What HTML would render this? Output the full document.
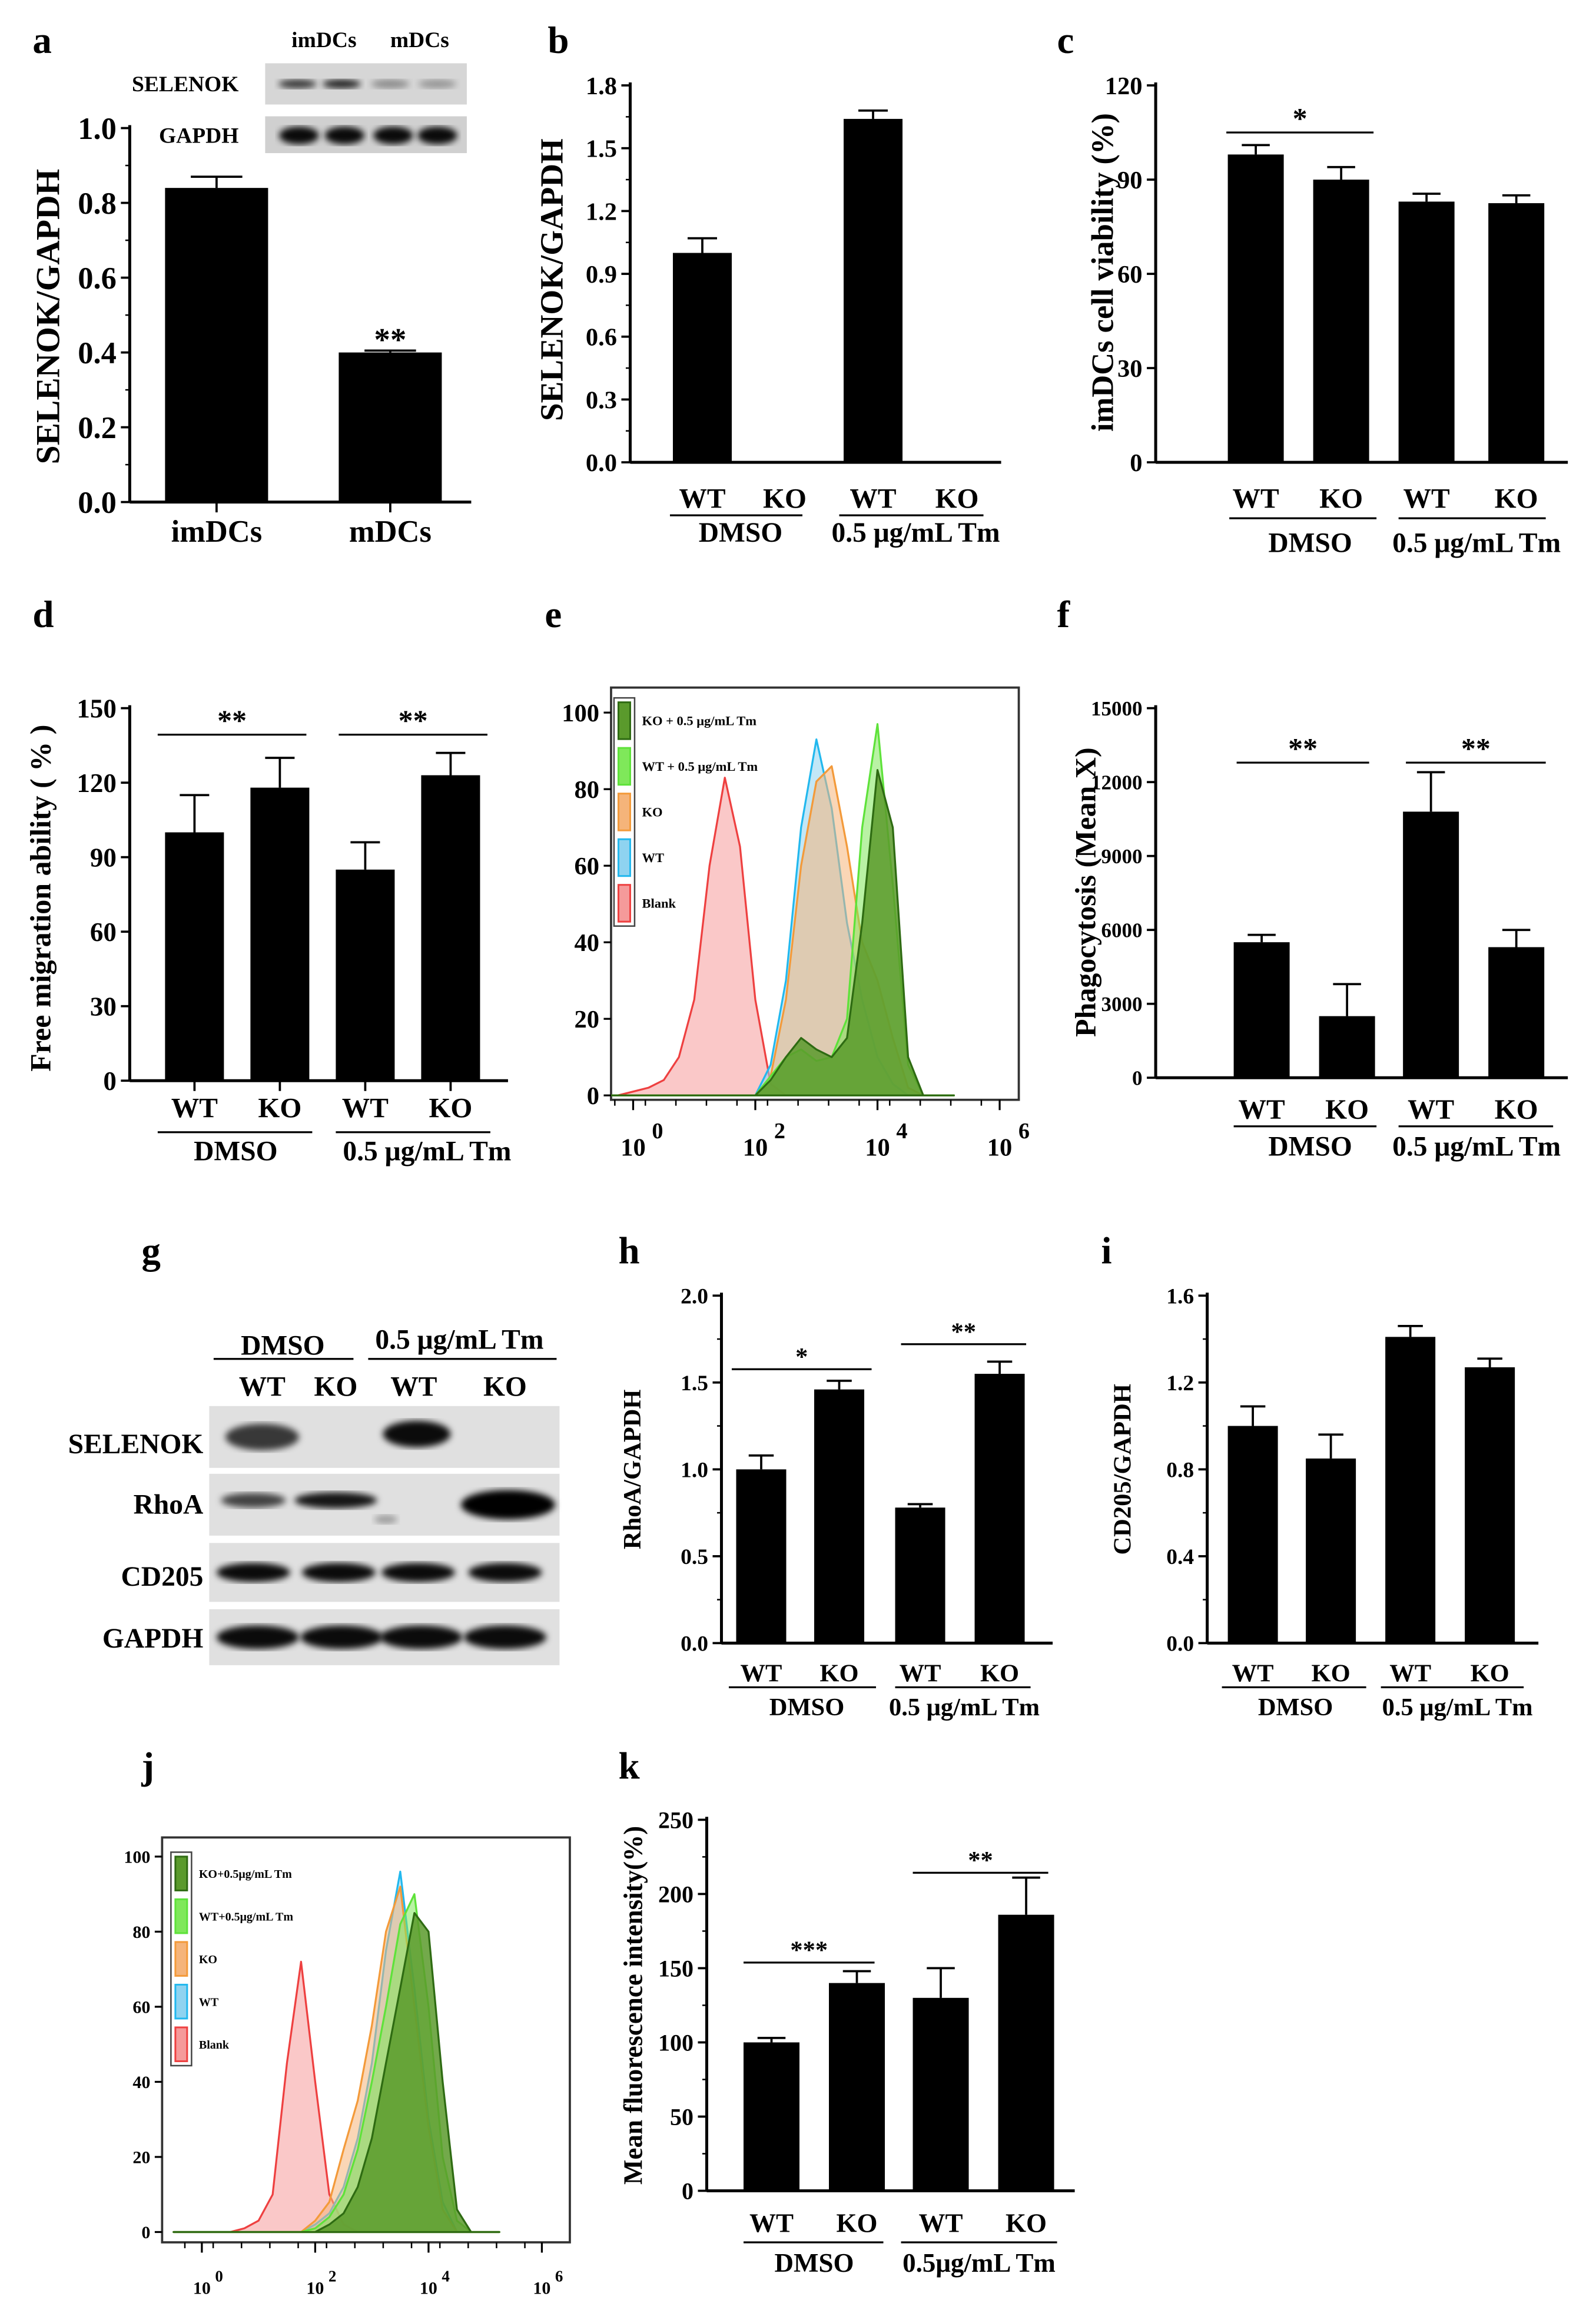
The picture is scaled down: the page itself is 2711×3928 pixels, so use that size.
<!DOCTYPE html>
<html><head><meta charset="utf-8">
<style>
html,body{margin:0;padding:0;background:#fff;}
svg{display:block;}
text{font-family:"Liberation Serif",serif;font-weight:bold;fill:#000;}
</style></head>
<body>
<svg id="fig" width="2711" height="3928" viewBox="0 0 1084 1571" xmlns="http://www.w3.org/2000/svg">
<defs>
<filter id="blur2"><feGaussianBlur stdDeviation="2.2"/></filter>
<filter id="blur1"><feGaussianBlur stdDeviation="1.2"/></filter>
</defs>
<g id="root"></g>
</svg>
<script>
// ---------- data ----------
const aCats=["imDCs","mDCs"];
const aVals=[0.84,0.40];
const aErr=[0.03,0.005];
const aTicks=["0.0","0.2","0.4","0.6","0.8","1.0"];

const bVals=[1.0,0,1.64,0];
const bErr=[0.07,0,0.04,0];
const bTicks=["0.0","0.3","0.6","0.9","1.2","1.5","1.8"];

const cVals=[98,90,83,82.5];
const cErr=[3,4,2.5,2.5];
const cTicks=["0","30","60","90","120"];

const dVals=[100,118,85,123];
const dErr=[15,12,11,9];
const dTicks=["0","30","60","90","120","150"];

const fVals=[5500,2500,10800,5300];
const fErr=[300,1300,1600,700];
const fTicks=["0","3000","6000","9000","12000","15000"];

const hVals=[1.0,1.46,0.78,1.55];
const hErr=[0.08,0.05,0.02,0.07];
const hTicks=["0.0","0.5","1.0","1.5","2.0"];

const iVals=[1.0,0.85,1.41,1.27];
const iErr=[0.09,0.11,0.05,0.04];
const iTicks=["0.0","0.4","0.8","1.2","1.6"];

const kVals=[100,140,130,186];
const kErr=[3,8,20,25];
const kTicks=["0","50","100","150","200","250"];

const groupCats=["WT","KO","WT","KO"];

// flow e: log10 positions and counts
const eLogs=[-0.5,-0.25,0,0.25,0.5,0.75,1,1.25,1.5,1.75,2,2.25,2.5,2.75,3,3.25,3.5,3.75,4,4.25,4.5,4.75,5,5.25];
const eBlank=[0,0,1,2,4,10,25,60,83,65,25,3,0,0,0,0,0,0,0,0,0,0,0,0];
const eWT=[0,0,0,0,0,0,0,0,0,0,0,8,30,70,93,75,45,25,10,3,0,0,0,0];
const eKO=[0,0,0,0,0,0,0,0,0,0,0,5,25,60,82,86,65,40,30,15,2,0,0,0];
const eWTTm=[0,0,0,0,0,0,0,0,0,0,0,5,10,12,9,10,20,70,97,55,8,0,0,0];
const eKOTm=[0,0,0,0,0,0,0,0,0,0,0,4,10,15,12,10,15,45,85,70,10,0,0,0];
// flow j
const jLogs=[-0.5,-0.25,0,0.25,0.5,0.75,1,1.25,1.5,1.75,2,2.25,2.5,2.75,3,3.25,3.5,3.75,4,4.25,4.5,4.75,5,5.25];
const jBlank=[0,0,0,0,0,1,3,10,45,72,40,10,2,0,0,0,0,0,0,0,0,0,0,0];
const jWT=[0,0,0,0,0,0,0,0,0,0,2,5,12,25,45,75,96,65,30,8,0,0,0,0];
const jKO=[0,0,0,0,0,0,0,0,0,0,3,8,22,35,55,80,92,60,28,6,0,0,0,0];
const jWTTm=[0,0,0,0,0,0,0,0,0,0,1,4,10,22,40,60,82,90,60,20,3,0,0,0];
const jKOTm=[0,0,0,0,0,0,0,0,0,0,0,2,5,12,25,45,65,85,80,40,6,0,0,0];

const flowLegend=["KO + 0.5 μg/mL Tm","WT + 0.5 μg/mL Tm","KO","WT","Blank"];
const flowLegendJ=["KO+0.5μg/mL Tm","WT+0.5μg/mL Tm","KO","WT","Blank"];
const flowColors=[["#2e6b12","#5a9a2c"],["#5ee23a","#7fe85a"],["#f39a3a","#f5b47a"],["#22b8ee","#8fd3f0"],["#ee4040","#f59a9a"]];

// ---------- helpers ----------
const NS="http://www.w3.org/2000/svg";
const root=document.getElementById('root');
function el(tag,attrs,parent,txt){
  const e=document.createElementNS(NS,tag);
  for(const k in attrs) e.setAttribute(k,attrs[k]);
  if(txt!==undefined) e.textContent=txt;
  (parent||root).appendChild(e);
  return e;
}
function panelLabel(ch,x,y){
  const t=el('text',{x:x,y:y,'font-size':26});
  t.textContent=ch;
  
  
}
function barChart(o){
  const g=el('g',{});
  
  
  const y=v=>o.y0-(v-0)/(o.max)*(o.y0-o.yTop);
  const ax=el('line',{x1:o.x0,y1:o.yTop-2,x2:o.x0,y2:o.y0,stroke:'#000','stroke-width':o.axW||2},g);
  
  
  const xa=el('line',{x1:o.x0,y1:o.y0,x2:o.xEnd,y2:o.y0,stroke:'#000','stroke-width':o.axW||2},g);
  
  
  const n=o.ticks.length;
  for(let i=0;i<n;i++){
    const v=o.max*i/(n-1), yy=y(v);
    el('line',{x1:o.x0-6,y1:yy,x2:o.x0,y2:yy,stroke:'#000','stroke-width':1.5},g);
    if(o.minor && i<n-1){ const ym=y(v+o.max/(n-1)/2); el('line',{x1:o.x0-3,y1:ym,x2:o.x0,y2:ym,stroke:'#000','stroke-width':1},g);}
    const t=el('text',{x:o.x0-9,y:yy+o.tfs*0.35,'font-size':o.tfs,'text-anchor':'end'},g,o.ticks[i]);
    
    
  }
  o.vals.forEach((v,i)=>{
    const cx=o.cx[i];
    if(o.xticks) el('line',{x1:cx,y1:o.y0,x2:cx,y2:o.y0+7,stroke:'#000','stroke-width':1.5},g);
    if(v>0){
      const r=el('rect',{x:cx-o.bw/2,y:y(v),width:o.bw,height:o.y0-y(v),fill:'#000'},g);
      
      
      const e=o.err[i];
      if(e>0){
        const ey=y(v+e);
        el('line',{x1:cx,y1:y(v),x2:cx,y2:ey,stroke:'#000','stroke-width':1.5},g);
        el('line',{x1:cx-o.bw/4,y1:ey,x2:cx+o.bw/4,y2:ey,stroke:'#000','stroke-width':1.5},g);
      }
    }
    const lbl=el('text',{x:cx,y:o.labY,'font-size':o.lfs,'text-anchor':'middle'},g,o.cats[i]);
    
    
  });
  (o.groups||[]).forEach(gr=>{
    el('line',{x1:gr.x1,y1:gr.ly,x2:gr.x2,y2:gr.ly,stroke:'#000','stroke-width':1.3},g);
    const t=el('text',{x:gr.tx,y:gr.ty,'font-size':o.lfs,'text-anchor':'middle'},g,gr.t);
    
    
  });
  (o.sig||[]).forEach(s=>{
    el('line',{x1:s.x1,y1:s.y,x2:s.x2,y2:s.y,stroke:'#000','stroke-width':1.3},g);
    const t=el('text',{x:(s.x1+s.x2)/2,y:s.y-3,'font-size':o.sfs||20,'text-anchor':'middle'},g,s.t);
    
    
  });
  const yl=el('text',{x:0,y:0,'font-size':o.yfs,'text-anchor':'middle',transform:`translate(${o.ylx},${o.yly}) rotate(-90)`},g,o.ylabel);
  
  
}
function flow(o){
  const g=el('g',{});
  
  
  const X=l=>o.xl0+l*o.xs, Y=v=>o.y0-v*o.ys;
  const fr=el('rect',{x:o.fx,y:o.fy,width:o.fw,height:o.fh,fill:'none',stroke:'#333','stroke-width':1.5},g);
  
  
  const series=[o.blank,o.wt,o.ko,o.wttm,o.kotm];
  const cols=[flowColors[4],flowColors[3],flowColors[2],flowColors[1],flowColors[0]];
  const names=['blank','wt','ko','wt-tm','ko-tm'];
  series.forEach((s,si)=>{
    let d='';
    o.logs.forEach((l,i)=>{ const x=Math.max(o.fx,Math.min(o.fx+o.fw,X(l))); d+=(i?'L':'M')+x.toFixed(1)+','+Y(s[i]).toFixed(1);});
    const p=el('path',{d:d+'Z',fill:cols[si][1],'fill-opacity':si==4?0.85:0.55,stroke:cols[si][0],'stroke-width':1.3,'stroke-linejoin':'round'},g);
    
    
  });
  o.yt.forEach(v=>{
    const yy=Y(v);
    el('line',{x1:o.fx-5,y1:yy,x2:o.fx,y2:yy,stroke:'#000','stroke-width':1.3},g);
    const t=el('text',{x:o.fx-8,y:yy+o.tfs*0.35,'font-size':o.tfs,'text-anchor':'end','font-family':'Liberation Sans'},g,String(v));
    
    
  });
  [0,2,4,6].forEach(p=>{
    const xx=X(p);
    el('line',{x1:xx,y1:o.fy+o.fh,x2:xx,y2:o.fy+o.fh+7,stroke:'#000','stroke-width':1.3},g);
    const t=el('text',{x:xx,y:o.xly,'font-size':o.tfs,'text-anchor':'middle','font-family':'Liberation Sans'},g,'10');
    
    
    const s=el('text',{x:xx+o.tfs*0.75,y:o.xly-o.tfs*0.7,'font-size':o.tfs*0.9,'font-family':'Liberation Sans'},g,String(p));
    
    
  });
  for(let p=-0.3;p<6.1;p+=0.5){ const xx=X(p); if(xx>o.fx&&xx<o.fx+o.fw) el('line',{x1:xx,y1:o.fy+o.fh,x2:xx,y2:o.fy+o.fh+4,stroke:'#000','stroke-width':1},g);}
  const lg=el('g',{},g);
  
  
  el('rect',{x:o.lx,y:o.ly,width:14,height:o.lstep*5,fill:'#fff',stroke:'#444','stroke-width':1},lg);
  o.leg.forEach((t,i)=>{
    const yy=o.ly+o.lstep*i+3;
    const r=el('rect',{x:o.lx+3,y:yy,width:8,height:o.lstep-6,fill:flowColors[i][1],stroke:flowColors[i][0],'stroke-width':1.2},lg);
    
    
    const tx=el('text',{x:o.lx+19,y:yy+o.lstep/2,'font-size':o.lfs},lg,t);
    
    
  });
}
function band(g,x,y,w,h,op){ el('ellipse',{cx:x,cy:y,rx:w/2,ry:h/2,fill:'#000','fill-opacity':op,filter:'url(#blur2)'},g);}

// ---------- panel a ----------
panelLabel('a',22,36);
barChart({name:'chart-a',x0:88,y0:341,yTop:87,xEnd:320,max:1.0,ticks:aTicks,tfs:21,minor:true,
  vals:aVals,err:aErr,cats:aCats,cx:[147,265],bw:70,labY:368,lfs:21,xticks:true,
  sig:[],ylabel:'SELENOK/GAPDH',ylx:40,yly:215,yfs:23});
el('text',{x:265,y:238,'font-size':22,'text-anchor':'middle'},root,'**');
{ const g=el('g',{});  
  el('rect',{x:180,y:43,width:137,height:28,fill:'#d6d6d6'},g);
  el('rect',{x:180,y:79,width:137,height:25,fill:'#d0d0d0'},g);
  [[202,0.75],[232,0.85],[265,0.35],[297,0.3]].forEach(b=>band(g,b[0],57,26,6,b[1]));
  [203,234,267,297].forEach(x=>band(g,x,92,27,12,0.95));
  el('text',{x:162,y:62,'font-size':15,'text-anchor':'end'},g,'SELENOK');
  el('text',{x:162,y:97,'font-size':15,'text-anchor':'end'},g,'GAPDH');
  el('text',{x:220,y:32,'font-size':15,'text-anchor':'middle'},g,'imDCs');
  el('text',{x:285,y:32,'font-size':15,'text-anchor':'middle'},g,'mDCs');
}
// ---------- panel b ----------
panelLabel('b',372,36);
barChart({name:'chart-b',x0:428,y0:314,yTop:58,xEnd:680,max:1.8,ticks:bTicks,tfs:17,minor:true,
  vals:bVals,err:bErr,cats:groupCats,cx:[477,533,593,650],bw:40,labY:345,lfs:19,
  groups:[{x1:455,x2:545,ly:350,t:'DMSO',tx:503,ty:368},{x1:570,x2:668,ly:350,t:'0.5 μg/mL Tm',tx:622,ty:368}],
  ylabel:'SELENOK/GAPDH',ylx:382,yly:190,yfs:22});
// ---------- panel c ----------
panelLabel('c',718,36);
barChart({name:'chart-c',x0:785,y0:314,yTop:58,xEnd:1065,max:120,ticks:cTicks,tfs:17,
  vals:cVals,err:cErr,cats:groupCats,cx:[853,911,969,1030],bw:38,labY:345,lfs:19,
  groups:[{x1:835,x2:935,ly:352,t:'DMSO',tx:890,ty:375},{x1:950,x2:1050,ly:352,t:'0.5 μg/mL Tm',tx:1003,ty:375}],
  sig:[{x1:833,x2:933,y:90,t:'*'}],ylabel:'imDCs cell viability (%)',ylx:756,yly:185,yfs:21});
// ---------- panel d ----------
panelLabel('d',22,426);
barChart({name:'chart-d',x0:88,y0:734,yTop:481,xEnd:345,max:150,ticks:dTicks,tfs:18,xticks:true,
  vals:dVals,err:dErr,cats:groupCats,cx:[132,190,248,306],bw:40,labY:759,lfs:19,
  groups:[{x1:107,x2:212,ly:769,t:'DMSO',tx:160,ty:788},{x1:228,x2:333,ly:769,t:'0.5 μg/mL Tm',tx:290,ty:788}],
  sig:[{x1:107,x2:208,y:499,t:'**'},{x1:230,x2:331,y:499,t:'**'}],ylabel:'Free migration ability ( % )',ylx:34,yly:610,yfs:20});
// ---------- panel e ----------
panelLabel('e',370,426);
flow({name:'flow-histogram-e',logs:eLogs,blank:eBlank,wt:eWT,ko:eKO,wttm:eWTTm,kotm:eKOTm,
  xl0:430,xs:41.5,y0:744,ys:2.6,fx:415,fy:467,fw:277,fh:280,yt:[0,20,40,60,80,100],tfs:17,xly:785,
  lx:417,ly:474,lstep:31,lfs:9,leg:flowLegend});
// ---------- panel f ----------
panelLabel('f',718,426);
barChart({name:'chart-f',x0:785,y0:732,yTop:481,xEnd:1065,max:15000,ticks:fTicks,tfs:14,
  vals:fVals,err:fErr,cats:groupCats,cx:[857,915,972,1030],bw:38,labY:760,lfs:19,
  groups:[{x1:838,x2:935,ly:765,t:'DMSO',tx:890,ty:785},{x1:950,x2:1055,ly:765,t:'0.5 μg/mL Tm',tx:1003,ty:785}],
  sig:[{x1:840,x2:930,y:518,t:'**'},{x1:955,x2:1050,y:518,t:'**'}],ylabel:'Phagocytosis (Mean X)',ylx:744,yly:606,yfs:20});
// ---------- panel g ----------
panelLabel('g',96,858);
{ const g=el('g',{});  
  el('text',{x:192,y:920,'font-size':19,'text-anchor':'middle'},g,'DMSO');
  el('text',{x:312,y:916,'font-size':19,'text-anchor':'middle'},g,'0.5 μg/mL Tm');
  el('line',{x1:145,y1:923,x2:240,y2:923,stroke:'#000','stroke-width':1.3},g);
  el('line',{x1:250,y1:923,x2:378,y2:923,stroke:'#000','stroke-width':1.3},g);
  [[178,'WT'],[228,'KO'],[281,'WT'],[343,'KO']].forEach(l=>el('text',{x:l[0],y:948,'font-size':19,'text-anchor':'middle'},g,l[1]));
  const rows=[['SELENOK',955,997,987],['RhoA',1001,1043,1028],['CD205',1048,1088,1077],['GAPDH',1093,1131,1119]];
  rows.forEach(r=>{ el('rect',{x:142,y:r[1],width:238,height:r[2]-r[1],fill:'#e0e0e0'},g);
    el('text',{x:138,y:r[3],'font-size':19,'text-anchor':'end'},g,r[0]);});
  band(g,178,976,50,18,0.75); band(g,283,974,46,18,0.95);
  band(g,172,1019,44,10,0.7); band(g,228,1019,56,11,0.9); band(g,262,1032,16,6,0.3); band(g,345,1022,64,20,1);
  [172,230,284,343].forEach(x=>band(g,x,1068,50,13,0.95));
  [175,232,286,343].forEach(x=>band(g,x,1112,56,16,0.95));
}
// ---------- panel h ----------
panelLabel('h',420,858);
barChart({name:'chart-h',x0:490,y0:1116,yTop:880,xEnd:715,max:2.0,ticks:hTicks,tfs:15,minor:true,
  vals:hVals,err:hErr,cats:groupCats,cx:[517,570,625,679],bw:34,labY:1142,lfs:17,
  groups:[{x1:495,x2:595,ly:1146,t:'DMSO',tx:548,ty:1165},{x1:608,x2:700,ly:1146,t:'0.5 μg/mL Tm',tx:655,ty:1165}],
  sig:[{x1:497,x2:592,y:930,t:'*'},{x1:612,x2:697,y:913,t:'**'}],sfs:17,ylabel:'RhoA/GAPDH',ylx:435,yly:998,yfs:17});
// ---------- panel i ----------
panelLabel('i',748,858);
barChart({name:'chart-i',x0:820,y0:1116,yTop:880,xEnd:1045,max:1.6,ticks:iTicks,tfs:15,minor:true,
  vals:iVals,err:iErr,cats:groupCats,cx:[851,904,958,1012],bw:34,labY:1142,lfs:17,
  groups:[{x1:830,x2:928,ly:1146,t:'DMSO',tx:880,ty:1165},{x1:938,x2:1035,ly:1146,t:'0.5 μg/mL Tm',tx:990,ty:1165}],
  ylabel:'CD205/GAPDH',ylx:768,yly:998,yfs:17});
// ---------- panel j ----------
panelLabel('j',96,1208);
flow({name:'flow-histogram-j',logs:jLogs,blank:jBlank,wt:jWT,ko:jKO,wttm:jWTTm,kotm:jKOTm,
  xl0:137,xs:38.5,y0:1516,ys:2.55,fx:110,fy:1248,fw:277,fh:275,yt:[0,20,40,60,80,100],tfs:12,xly:1558,
  lx:116,ly:1258,lstep:29,lfs:8,leg:flowLegendJ});
// ---------- panel k ----------
panelLabel('k',420,1208);
barChart({name:'chart-k',x0:480,y0:1488,yTop:1236,xEnd:730,max:250,ticks:kTicks,tfs:16,minor:true,
  vals:kVals,err:kErr,cats:groupCats,cx:[524,582,639,697],bw:38,labY:1516,lfs:18,
  groups:[{x1:505,x2:600,ly:1523,t:'DMSO',tx:553,ty:1543},{x1:612,x2:718,ly:1523,t:'0.5μg/mL Tm',tx:665,ty:1543}],
  sig:[{x1:505,x2:594,y:1333,t:'***'},{x1:620,x2:712,y:1272,t:'**'}],sfs:17,ylabel:'Mean fluorescence intensity(%)',ylx:436,yly:1362,yfs:18});
</script>
</body></html>
